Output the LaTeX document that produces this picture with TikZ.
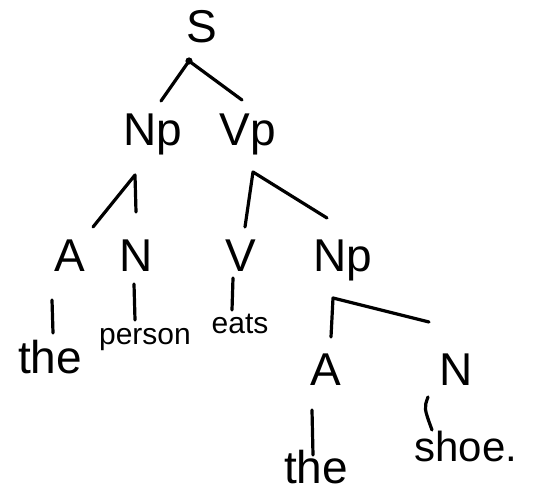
\documentclass[tikz,border=0pt]{standalone}
\usepackage{fontspec}
\setmainfont{Liberation Sans}
\begin{document}
\begin{tikzpicture}[x=1pt,y=-1pt,
  cat/.style={inner sep=0pt,font=\fontsize{46}{46}\selectfont},
  word/.style={inner sep=0pt,font=\fontsize{#1}{#1}\selectfont},
  word/.default=34,
  branch/.style={line width=3.2pt,line cap=round,line join=round}]
\useasboundingbox (0,0) rectangle (542,494);

% category labels
\node[cat] (s) at (202,27) {S};
\node[cat,anchor=base] (np1) at (153,146) {Np};
\node[cat,anchor=base] (vp) at (248,146) {Vp};
\node[cat,anchor=base] (a1) at (70,272) {A};
\node[cat,anchor=base] (n1) at (136,272) {N};
\node[cat,anchor=base] (v) at (241,272) {V};
\node[cat,anchor=base] (np2) at (343,272) {Np};
\node[cat,anchor=base] (a2) at (326,386) {A};
\node[cat,anchor=base] (n2) at (456,386) {N};

% words
\node[word=46,anchor=base] (w1) at (50,374) {the};
\node[word=30,anchor=base] (w2) at (145,345) {person};
\node[word=30,anchor=base] (w3) at (240,334) {eats};
\node[word=46,anchor=base] (w4) at (316,484) {the};
\node[word=42,anchor=base] (w5) at (466,462) {shoe.};

% branch end points
\coordinate (sdot) at (189,61);
\coordinate (npL) at (161,101);
\coordinate (vpR) at (242,100);
\coordinate (np1top) at (135,175);
\coordinate (np1l) at (93,227);
\coordinate (np1r) at (136,212);
\coordinate (vptop) at (253,172);
\coordinate (vpl) at (245,227);
\coordinate (vpr) at (327,218);
\coordinate (a1t) at (52,300);
\coordinate (a1b) at (53,333);
\coordinate (n1t) at (134,284);
\coordinate (n1b) at (135,320);
\coordinate (vt) at (233,278);
\coordinate (vb) at (232,310);
\coordinate (np2t) at (333,298);
\coordinate (np2l) at (331,337);
\coordinate (np2r) at (429,322);
\coordinate (a2t) at (312,410);
\coordinate (a2b) at (313,455);
\coordinate (n2t) at (428,397);
\coordinate (n2b) at (432,430);

\fill (sdot) circle (3.6pt);
\draw[branch] (npL) -- (sdot) -- (vpR);
\draw[branch] (np1l) -- (np1top) -- (np1r);
\draw[branch] (vpl) -- (vptop) -- (vpr);
\draw[branch] (a1t) -- (a1b);
\draw[branch] (n1t) -- (n1b);
\draw[branch] (vt) -- (vb);
\draw[branch] (np2l) -- (np2t) -- (np2r);
\draw[branch] (a2t) -- (a2b);
\draw[branch] (n2t) .. controls (424,408) .. (n2b);
\end{tikzpicture}
\end{document}
